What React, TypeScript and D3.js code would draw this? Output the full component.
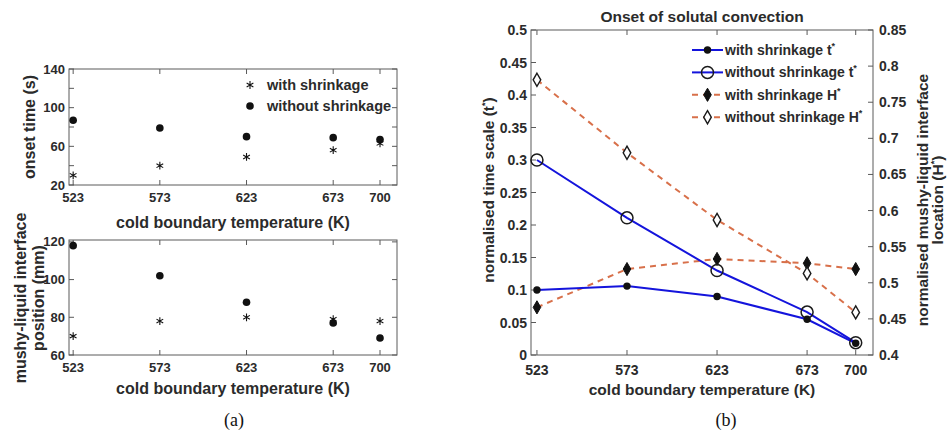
import React from "react";
import * as d3 from "d3";

const temps = [523, 573, 623, 673, 700];
const tempTicks = [523, 573, 623, 673, 700];

// Panel (a) top: onset time (s)
const onsetWith = [30, 40, 49, 56, 63];
const onsetWithout = [87, 79, 70, 69, 67];
const onsetTicks = [20, 40, 60, 80, 100, 120, 140];
const onsetLabels = [20, 60, 100, 140];

// Panel (a) bottom: interface position (mm)
const posWith = [70, 78, 80, 79, 78];
const posWithout = [118, 102, 88, 77, 69];
const posTicks = [60, 80, 100, 120];

// Panel (b)
const tWith = [0.1, 0.106, 0.09, 0.055, 0.018];
const tWithout = [0.3, 0.211, 0.13, 0.066, 0.019];
const hWith = [0.466, 0.519, 0.533, 0.527, 0.519];
const hWithout = [0.781, 0.68, 0.587, 0.513, 0.459];
const tTicks = [0, 0.05, 0.1, 0.15, 0.2, 0.25, 0.3, 0.35, 0.4, 0.45, 0.5];
const hTicks = [0.4, 0.45, 0.5, 0.55, 0.6, 0.65, 0.7, 0.75, 0.8, 0.85];

const FONT = "'Liberation Sans', Arial, sans-serif";
const TXT = "#2b2b2b";
const AX = "#5a5a5a";
const BLUE = "#1414dc";
const ORANGE = "#d8704a";

const xA = d3.scaleLinear().domain([520.6, 709.8]).range([69, 397]);
const yA1 = d3.scaleLinear().domain([20, 140]).range([185, 69]);
const yA2 = d3.scaleLinear().domain([60, 121]).range([355, 240]);
const xB = d3.scaleLinear().domain([519.7, 709.6]).range([531, 873]);
const yBL = d3.scaleLinear().domain([0, 0.5]).range([355, 30]);
const yBR = d3.scaleLinear().domain([0.4, 0.85]).range([355, 30]);

const starPath = d3.symbol(d3.symbolAsterisk, 42)() as string;
const diamondPath = d3.symbol(d3.symbolDiamond, 50)() as string;

const TL = 5;

function Star({ x, y }: { x: number; y: number }) {
  return <path d={starPath} transform={`translate(${x},${y})`} fill="none" stroke="#111" strokeWidth={1.1} />;
}

function Box({ x, y, yTicks, yLabels, tickSize }: any) {
  const [x0, x1] = x.range();
  const [y0, y1] = y.range();
  return (
    <g>
      <rect x={x0} y={y1} width={x1 - x0} height={y0 - y1} fill="none" stroke={AX} strokeWidth={1} />
      {tempTicks.map((t) => (
        <g key={"xt" + t}>
          <line x1={x(t)} x2={x(t)} y1={y0} y2={y0 - TL} stroke={AX} />
          <line x1={x(t)} x2={x(t)} y1={y1} y2={y1 + TL} stroke={AX} />
          <text x={x(t)} y={y0 + 17} textAnchor="middle" fontSize={tickSize} fontWeight="bold" fill={TXT} fontFamily={FONT}>
            {t}
          </text>
        </g>
      ))}
      {yTicks.map((t: number) => (
        <g key={"yt" + t}>
          <line x1={x0} x2={x0 + TL} y1={y(t)} y2={y(t)} stroke={AX} />
          <line x1={x1} x2={x1 - TL} y1={y(t)} y2={y(t)} stroke={AX} />
        </g>
      ))}
      {yLabels.map((t: number) => (
        <text key={"yl" + t} x={x0 - 4} y={y(t) + 4.5} textAnchor="end" fontSize={tickSize} fontWeight="bold" fill={TXT} fontFamily={FONT}>
          {t}
        </text>
      ))}
    </g>
  );
}

function Sup({ children }: any) {
  return (
    <tspan fontSize={9} dy={-6}>
      {children}
    </tspan>
  );
}

export default function App() {
  const lineT = d3
    .line<number>()
    .x((_, i) => xB(temps[i]))
    .y((d) => yBL(d));
  const lineH = d3
    .line<number>()
    .x((_, i) => xB(temps[i]))
    .y((d) => yBR(d));

  const legendB = [
    { label: "with shrinkage t", color: BLUE, dash: undefined, kind: "dot" },
    { label: "without shrinkage t", color: BLUE, dash: undefined, kind: "circle" },
    { label: "with shrinkage H", color: ORANGE, dash: "6,5", kind: "fdiamond" },
    { label: "without shrinkage H", color: ORANGE, dash: "6,5", kind: "odiamond" },
  ];

  const marker = (kind: string, x: number, y: number, key: string) => {
    if (kind === "dot") return <circle key={key} cx={x} cy={y} r={3.7} fill="#111" />;
    if (kind === "circle") return <circle key={key} cx={x} cy={y} r={6} fill="none" stroke="#1a1a1a" strokeWidth={1.5} />;
    if (kind === "fdiamond") return <path key={key} d={diamondPath} transform={`translate(${x},${y})`} fill="#111" stroke="#111" />;
    return <path key={key} d={diamondPath} transform={`translate(${x},${y})`} fill="#fff" stroke="#1a1a1a" strokeWidth={1.4} />;
  };

  return (
    <svg width={948} height={440} style={{ position: "absolute", left: 0, top: 0, background: "#fff" }} fontFamily={FONT}>
      <rect width={948} height={440} fill="#fff" />

      {/* ---------- Panel (a) top ---------- */}
      <Box x={xA} y={yA1} yTicks={onsetTicks} yLabels={onsetLabels} tickSize={13} />
      {temps.map((t, i) => (
        <circle key={"ow" + i} cx={xA(t)} cy={yA1(onsetWithout[i])} r={3.8} fill="#111" />
      ))}
      {temps.map((t, i) => (
        <Star key={"os" + i} x={xA(t)} y={yA1(onsetWith[i])} />
      ))}
      <Star x={250} y={85} />
      <text x={267} y={90} fontSize={14.5} fontWeight="bold" fill={TXT}>with shrinkage</text>
      <circle cx={250} cy={106} r={3.8} fill="#111" />
      <text x={267} y={111} fontSize={14.5} fontWeight="bold" fill={TXT}>without shrinkage</text>
      <text transform="translate(35,127) rotate(-90)" textAnchor="middle" fontSize={16} fontWeight="bold" fill={TXT}>
        onset time (s)
      </text>
      <text x={233} y={228} textAnchor="middle" fontSize={16} fontWeight="bold" fill={TXT}>
        cold boundary temperature (K)
      </text>

      {/* ---------- Panel (a) bottom ---------- */}
      <Box x={xA} y={yA2} yTicks={posTicks} yLabels={posTicks} tickSize={13} />
      {temps.map((t, i) => (
        <Star key={"ps" + i} x={xA(t)} y={yA2(posWith[i])} />
      ))}
      {temps.map((t, i) => (
        <circle key={"pw" + i} cx={xA(t)} cy={yA2(posWithout[i])} r={3.8} fill="#111" />
      ))}
      <text transform="translate(26,298) rotate(-90)" textAnchor="middle" fontSize={16} fontWeight="bold" fill={TXT}>
        mushy-liquid interface
      </text>
      <text transform="translate(44,298) rotate(-90)" textAnchor="middle" fontSize={16} fontWeight="bold" fill={TXT}>
        position (mm)
      </text>
      <text x={233} y={394} textAnchor="middle" fontSize={16} fontWeight="bold" fill={TXT}>
        cold boundary temperature (K)
      </text>
      <text x={234} y={426} textAnchor="middle" fontSize={18} fontFamily="'Liberation Serif', 'Times New Roman', serif" fill="#111">
        (a)
      </text>

      {/* ---------- Panel (b) ---------- */}
      <g>
        <rect x={531} y={30} width={342} height={325} fill="none" stroke={AX} />
        {tempTicks.map((t) => (
          <g key={"bxt" + t}>
            <line x1={xB(t)} x2={xB(t)} y1={355} y2={355 - TL} stroke={AX} />
            <line x1={xB(t)} x2={xB(t)} y1={30} y2={30 + TL} stroke={AX} />
            <text x={xB(t)} y={375} textAnchor="middle" fontSize={14} fontWeight="bold" fill={TXT}>
              {t}
            </text>
          </g>
        ))}
        {tTicks.map((t) => (
          <g key={"btl" + t}>
            <line x1={531} x2={531 + TL} y1={yBL(t)} y2={yBL(t)} stroke={AX} />
            <text x={527} y={yBL(t) + 5} textAnchor="end" fontSize={14} fontWeight="bold" fill={TXT}>
              {t}
            </text>
          </g>
        ))}
        {hTicks.map((t) => (
          <g key={"bhl" + t}>
            <line x1={873} x2={873 - TL} y1={yBR(t)} y2={yBR(t)} stroke={AX} />
            <text x={879} y={yBR(t) + 5} textAnchor="start" fontSize={14} fontWeight="bold" fill={TXT}>
              {t}
            </text>
          </g>
        ))}
      </g>
      <path d={lineH(hWith) as string} fill="none" stroke={ORANGE} strokeWidth={2} strokeDasharray="6,5" />
      <path d={lineH(hWithout) as string} fill="none" stroke={ORANGE} strokeWidth={2} strokeDasharray="6,5" />
      <path d={lineT(tWith) as string} fill="none" stroke={BLUE} strokeWidth={2} />
      <path d={lineT(tWithout) as string} fill="none" stroke={BLUE} strokeWidth={2} />
      {temps.map((t, i) => marker("fdiamond", xB(t), yBR(hWith[i]), "fd" + i))}
      {temps.map((t, i) => marker("odiamond", xB(t), yBR(hWithout[i]), "od" + i))}
      {temps.map((t, i) => marker("circle", xB(t), yBL(tWithout[i]), "ci" + i))}
      {temps.map((t, i) => marker("dot", xB(t), yBL(tWith[i]), "dt" + i))}

      {legendB.map((e, i) => {
        const y = 50 + i * 22.4;
        return (
          <g key={"lg" + i}>
            <line x1={692} x2={723} y1={y} y2={y} stroke={e.color} strokeWidth={2} strokeDasharray={e.dash} />
            {marker(e.kind, 707.5, y, "lm" + i)}
            <text x={725} y={y + 5} fontSize={14} fontWeight="bold" fill={TXT}>
              {e.label}
              <Sup>*</Sup>
            </text>
          </g>
        );
      })}

      <text x={702} y={22} textAnchor="middle" fontSize={15.5} fontWeight="bold" fill={TXT}>
        Onset of solutal convection
      </text>
      <text transform="translate(494,190) rotate(-90)" textAnchor="middle" fontSize={15.5} fontWeight="bold" fill={TXT}>
        normalised time scale (t<tspan fontSize={9} dy={-6}>*</tspan><tspan dy={6}>)</tspan>
      </text>
      <text transform="translate(928,200) rotate(-90)" textAnchor="middle" fontSize={15.5} fontWeight="bold" fill={TXT}>
        normalised mushy-liquid interface
      </text>
      <text transform="translate(943,200) rotate(-90)" textAnchor="middle" fontSize={15.5} fontWeight="bold" fill={TXT}>
        location (H<tspan fontSize={9} dy={-6}>*</tspan><tspan dy={6}>)</tspan>
      </text>
      <text x={702} y={395} textAnchor="middle" fontSize={15.5} fontWeight="bold" fill={TXT}>
        cold boundary temperature (K)
      </text>
      <text x={726} y={426} textAnchor="middle" fontSize={18} fontFamily="'Liberation Serif', 'Times New Roman', serif" fill="#111">
        (b)
      </text>
    </svg>
  );
}
